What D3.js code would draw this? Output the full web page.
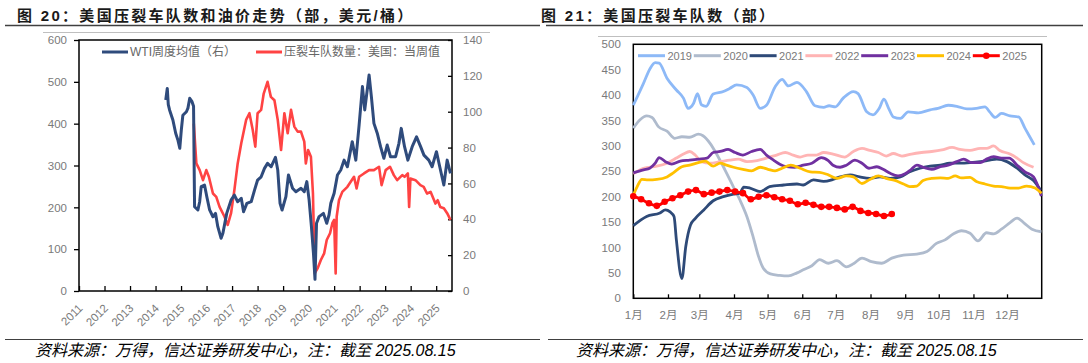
<!DOCTYPE html>
<html>
<head>
<meta charset="utf-8">
<script src="https://cdn.jsdelivr.net/npm/d3@7"></script>
<style>
  body { margin: 0; background: #fff; }
  text { font-family: "Liberation Sans", "Noto Sans CJK SC", sans-serif; }
</style>
</head>
<body>
<script>
// ---- left chart data (decimal year, value) ----
const wti = [
  [2014.40,106.5],[2014.46,113],[2014.50,104],[2014.55,101],[2014.68,95.4],[2014.79,88],[2014.88,84],[2014.95,79.6],
  [2015.01,89.8],[2015.07,98],[2015.21,100],[2015.27,102],[2015.34,107.5],[2015.43,105.6],[2015.49,103],[2015.52,60],
  [2015.53,47],[2015.66,45.2],[2015.73,49.8],[2015.79,58.2],[2015.92,59.1],[2016.01,52.6],[2016.12,45.2],[2016.25,41.4],
  [2016.35,43.3],[2016.44,35.9],[2016.57,29.4],[2016.64,32.2],[2016.79,43.3],[2016.96,50.7],[2017.09,53.5],[2017.22,49.8],
  [2017.36,51.7],[2017.45,44.2],[2017.58,48.9],[2017.75,49.8],[2017.88,56.3],[2018.00,61.9],[2018.14,63.7],[2018.27,68.4],
  [2018.39,71.2],[2018.53,69.3],[2018.70,74.6],[2018.79,67.5],[2018.88,48.9],[2018.96,45.2],[2019.11,52.6],[2019.21,64.7],
  [2019.37,57.3],[2019.50,55.4],[2019.70,57.3],[2019.83,55.4],[2019.93,61],[2020.02,50.7],[2020.11,35.9],[2020.19,21],
  [2020.25,6.5],[2020.31,37.8],[2020.41,41.5],[2020.58,43.3],[2020.71,37.8],[2020.80,42.4],[2020.87,48.9],[2021.00,54.5],
  [2021.13,64.7],[2021.26,67.5],[2021.39,73],[2021.52,69.3],[2021.71,83.3],[2021.85,73],[2021.98,92.6],[2022.11,114],
  [2022.20,101],[2022.37,120.5],[2022.46,108.4],[2022.56,93.5],[2022.69,88],[2022.82,80.5],[2022.95,74],[2023.08,81.4],
  [2023.21,74.9],[2023.41,74.9],[2023.54,82.4],[2023.63,90.7],[2023.76,80.5],[2023.89,73],[2024.06,80.5],[2024.23,86],
  [2024.39,80.5],[2024.52,75.8],[2024.71,73],[2024.84,69.3],[2025.01,77.7],[2025.14,69.3],[2025.30,59.1],[2025.43,73],
  [2025.56,65.6]
];
const fleet = [
  [2015.50,400],[2015.60,305],[2015.73,289],[2015.86,265],[2015.99,289],[2016.09,273],[2016.25,233],[2016.38,225],
  [2016.51,201],[2016.70,178],[2016.83,158],[2016.96,186],[2017.09,241],[2017.22,305],[2017.36,353],[2017.55,409],
  [2017.68,425],[2017.81,385],[2017.91,345],[2018.00,425],[2018.14,433],[2018.24,472],[2018.39,500],[2018.52,464],
  [2018.66,456],[2018.79,409],[2018.92,337],[2019.05,425],[2019.18,377],[2019.31,433],[2019.44,393],[2019.57,381],
  [2019.70,381],[2019.83,357],[2019.89,305],[2019.98,337],[2020.09,321],[2020.17,233],[2020.24,42],[2020.35,54],
  [2020.48,74],[2020.61,90],[2020.71,122],[2020.84,138],[2020.93,162],[2021.00,170],[2021.06,42],[2021.10,178],
  [2021.19,217],[2021.32,237],[2021.52,249],[2021.65,261],[2021.78,273],[2021.88,245],[2021.98,273],[2022.17,281],
  [2022.37,289],[2022.56,289],[2022.76,297],[2022.86,253],[2023.02,289],[2023.19,297],[2023.34,277],[2023.47,265],
  [2023.67,277],[2023.76,273],[2023.89,281],[2023.94,201],[2023.99,269],[2024.19,265],[2024.38,253],[2024.51,249],
  [2024.64,233],[2024.78,237],[2024.97,209],[2025.06,217],[2025.16,201],[2025.30,198],[2025.43,186],[2025.56,170]
];
const yearTicks = d3.range(2011, 2026);
const leftTicks = [0, 100, 200, 300, 400, 500, 600];
const rightTicks = [0, 20, 40, 60, 80, 100, 120, 140];

// ---- right chart data (week of year, value) ----
const s2019 = [[0,380],[1.3,423],[2.1,451],[2.8,464],[3.3,463],[4.3,433],[5.5,410],[6.4,394],[7.0,374],[7.7,384],[8.2,403],[8.7,381],[9.3,378],[10.2,402],[11.5,407],[12.3,413],[13.2,420],[14.5,415],[15.3,400],[16.2,374],[17.0,380],[18.1,416],[19.0,431],[19.8,418],[20.9,425],[22.1,407],[23.2,379],[24.3,376],[25.0,379],[25.8,377],[26.8,394],[28.1,407],[28.7,403],[29.8,367],[30.6,361],[31.4,374],[32.0,392],[32.6,374],[33.2,357],[34.1,354],[35.1,367],[36.4,365],[37.9,371],[38.9,374],[40.2,380],[41.3,378],[42.6,373],[43.8,374],[44.9,377],[45.5,367],[46.2,356],[47.0,364],[48.1,359],[49.2,357],[50.0,335],[51.2,302]];
const s2020 = [[0,335],[0.9,352],[1.7,359],[2.4,356],[3.2,338],[4.3,329],[5.3,315],[6.2,318],[7.2,317],[8.3,323],[8.9,320],[9.8,305],[10.6,285],[11.7,253],[12.7,222],[13.6,194],[14.5,161],[15.3,121],[16.0,82],[16.6,59],[17.5,48],[18.7,45],[19.8,44],[20.9,50],[21.7,56],[22.8,64],[23.8,76],[24.9,69],[26.0,74],[27.2,62],[28.1,68],[29.2,79],[30.4,72],[31.7,69],[33.0,79],[34.5,85],[36.2,87],[37.5,92],[38.7,108],[39.8,115],[40.9,127],[41.9,133],[43.0,128],[44.0,113],[45.1,129],[46.0,127],[47.0,136],[48.1,149],[49.0,158],[49.9,148],[50.9,136],[52.1,131]];
const s2021 = [[0,143],[1.7,161],[3.4,168],[4.1,174],[4.7,170],[5.2,161],[5.5,115],[6.2,39],[6.7,102],[7.3,144],[7.9,157],[9.0,174],[10.2,192],[11.5,200],[12.8,205],[13.6,207],[14.1,219],[14.9,217],[16.2,210],[17.4,220],[19.2,223],[20.9,225],[21.7,223],[23.0,233],[24.3,230],[25.5,234],[26.4,239],[27.7,243],[28.9,239],[30.2,236],[31.5,239],[32.8,236],[34.1,239],[35.3,249],[36.6,256],[37.9,260],[39.2,262],[40.4,266],[41.7,266],[43.0,267],[44.3,269],[45.5,272],[46.4,274],[47.7,269],[49.0,256],[50.0,243],[51.1,232],[52.0,213]];
const s2022 = [[0,245],[1.3,256],[3.0,260],[4.3,266],[5.5,276],[6.4,284],[7.2,289],[7.9,282],[8.7,269],[9.8,266],[11.1,269],[12.3,272],[13.4,274],[14.5,269],[15.8,271],[17.0,276],[18.3,282],[19.4,287],[20.4,282],[21.3,278],[22.3,282],[23.4,282],[24.3,287],[25.5,284],[27.0,278],[28.1,289],[29.2,295],[30.2,291],[31.3,287],[32.3,280],[33.2,285],[34.3,280],[35.5,284],[36.8,287],[38.1,289],[39.4,292],[40.7,297],[41.7,293],[43.0,291],[44.3,295],[45.1,295],[46.0,300],[46.8,291],[48.1,284],[49.0,276],[49.8,267],[51.1,258]];
const s2023 = [[0,247],[1.3,253],[2.1,256],[2.8,266],[3.3,277],[4.1,269],[4.9,264],[6.0,270],[7.2,272],[8.3,274],[9.4,276],[10.2,287],[11.1,289],[12.1,293],[13.0,287],[14.0,282],[15.1,289],[16.2,293],[17.0,282],[17.9,272],[18.7,264],[19.6,259],[20.6,258],[21.7,262],[22.8,266],[24.0,277],[24.9,271],[25.5,262],[26.4,258],[27.2,262],[28.3,272],[29.2,266],[30.1,256],[31.1,259],[31.9,254],[32.8,246],[33.8,241],[34.7,245],[35.5,254],[36.2,262],[37.0,258],[38.1,254],[39.2,259],[40.2,262],[41.3,269],[42.2,274],[43.2,267],[44.3,267],[45.1,274],[46.0,279],[47.0,276],[48.0,276],[49.0,262],[50.0,249],[51.1,239],[52.1,201]];
const s2024 = [[0,203],[0.5,220],[1.1,234],[1.9,233],[3.0,234],[4.3,239],[5.1,247],[6.2,259],[7.2,262],[8.3,267],[9.2,270],[10.2,260],[11.1,266],[11.9,262],[12.8,258],[14.0,254],[15.1,251],[16.2,258],[17.2,254],[18.1,251],[19.0,256],[20.1,262],[21.3,256],[22.6,249],[23.8,248],[24.9,243],[26.0,236],[27.2,241],[28.1,239],[29.2,226],[30.2,234],[31.3,241],[32.3,236],[33.4,232],[34.5,225],[35.3,220],[36.2,221],[37.0,232],[38.1,236],[39.2,237],[40.2,236],[41.1,241],[41.9,237],[43.0,238],[43.8,230],[44.9,225],[46.0,221],[47.0,220],[48.1,217],[49.2,217],[50.2,221],[51.3,217],[52.1,207]];
// 2025 weekly values, first week of the year onwards
const s2025 = [201,195,187,182,190,197,203,210,213,205,208,210,213,210,207,195,200,203,199,195,192,185,188,184,180,180,178,175,180,172,168,166,162,166];

const monthLabels = ["1月","2月","3月","4月","5月","6月","7月","8月","9月","10月","11月","12月"];
const monthStartDays = [0,31,59,90,120,151,181,212,243,273,304,334];
const yTicks2 = d3.range(0, 501, 50);

const series2 = [
  { name: "2019", color: "#8DB9F7", data: s2019 },
  { name: "2020", color: "#AFBBCD", data: s2020 },
  { name: "2021", color: "#2E4A78", data: s2021 },
  { name: "2022", color: "#FFB4B4", data: s2022 },
  { name: "2023", color: "#7030A0", data: s2023 },
  { name: "2024", color: "#FFC000", data: s2024 },
  { name: "2025", color: "#FF0000", data: s2025.map((v, i) => [i, v]) }
];

const svg = d3.select("body").append("svg").attr("width", 1088).attr("height", 363);
svg.append("rect").attr("width", 1088).attr("height", 363).attr("fill", "#fff");

// titles, rules and notes
function header(x, x1, x2, title) {
  svg.append("text").attr("x", x).attr("y", 21)
     .attr("font-size", 15).attr("font-weight", "bold").attr("letter-spacing", "2.3px")
     .attr("fill", "#1a1a1a").text(title);
  svg.append("line").attr("x1", x1).attr("x2", x2).attr("y1", 25.5).attr("y2", 25.5)
     .attr("stroke", "#404040").attr("stroke-width", 1.5);
}
function footer(x, x1, x2) {
  svg.append("line").attr("x1", x1).attr("x2", x2).attr("y1", 339.5).attr("y2", 339.5)
     .attr("stroke", "#404040").attr("stroke-width", 1.2);
  svg.append("text").attr("x", x).attr("y", 356).attr("font-size", 16).attr("font-style", "italic")
     .attr("fill", "#000").text("资料来源：万得，信达证券研发中心，注：截至 2025.08.15");
}
header(17, 5, 540, "图 20：美国压裂车队数和油价走势（部，美元/桶）");
header(541, 546, 1083, "图 21：美国压裂车队数（部）");
footer(35, 5, 540);
footer(576, 548, 1083);

// ================= left chart =================
const x1 = d3.scaleLinear().domain([2011, 2025.62]).range([79, 452]);
const yL = d3.scaleLinear().domain([0, 600]).range([291, 40]);
const yR = d3.scaleLinear().domain([0, 140]).range([291, 40]);

svg.append("line").attr("x1", 43).attr("x2", 490).attr("y1", 32.5).attr("y2", 32.5)
   .attr("stroke", "#BFBFBF").attr("stroke-width", 1);

const gl = svg.append("g").attr("transform", "translate(79,0)")
  .call(d3.axisLeft(yL).tickValues(leftTicks).tickSizeInner(5).tickSizeOuter(0).tickPadding(7));
const gr = svg.append("g").attr("transform", "translate(452,0)")
  .call(d3.axisRight(yR).tickValues(rightTicks).tickSizeInner(-4).tickSizeOuter(0).tickPadding(11));
const gb = svg.append("g").attr("transform", "translate(0,291)")
  .call(d3.axisBottom(x1).tickValues(yearTicks).tickFormat(d3.format("d")).tickSizeInner(-5).tickSizeOuter(0));
gb.selectAll("text").attr("y", 0).attr("dy", "0.35em").attr("text-anchor", "end")
  .attr("transform", "translate(1,15) rotate(-45)");

[gl, gr, gb].forEach(g => {
  g.selectAll("path").remove();
  g.selectAll("line").attr("stroke", "#000").attr("stroke-width", 1.3);
  g.selectAll("text").attr("fill", "#7a7a7a").attr("font-size", 11.5)
   .attr("font-family", "Liberation Sans, sans-serif");
});
svg.append("rect").attr("x", 79).attr("y", 40).attr("width", 373).attr("height", 251)
   .attr("fill", "none").attr("stroke", "#000").attr("stroke-width", 1.5);

const lineFleet = d3.line().x(d => x1(d[0])).y(d => yL(d[1]));
const lineWti = d3.line().x(d => x1(d[0])).y(d => yR(d[1]));
svg.append("path").datum(fleet).attr("d", lineFleet)
   .attr("fill", "none").attr("stroke", "#FF4343").attr("stroke-width", 2.6).attr("stroke-linejoin", "round");
svg.append("path").datum(wti).attr("d", lineWti)
   .attr("fill", "none").attr("stroke", "#2F4B7C").attr("stroke-width", 3).attr("stroke-linejoin", "round");

// legend
svg.append("line").attr("x1", 102).attr("x2", 128).attr("y1", 52).attr("y2", 52)
   .attr("stroke", "#2F4B7C").attr("stroke-width", 3);
svg.append("text").attr("x", 130).attr("y", 52).attr("dy", "0.35em").attr("font-size", 12)
   .attr("fill", "#666").text("WTI周度均值（右）");
svg.append("line").attr("x1", 256).attr("x2", 282).attr("y1", 52).attr("y2", 52)
   .attr("stroke", "#FF4343").attr("stroke-width", 3);
svg.append("text").attr("x", 284).attr("y", 52).attr("dy", "0.35em").attr("font-size", 12)
   .attr("fill", "#666").text("压裂车队数量：美国：当周值");

// ================= right chart =================
const x2 = d3.scaleLinear().domain([0, 365 / 7]).range([633.3, 1041.7]);
const y2 = d3.scaleLinear().domain([0, 500]).range([298.3, 44.3]);

svg.append("line").attr("x1", 598).attr("x2", 1047).attr("y1", 36.5).attr("y2", 36.5)
   .attr("stroke", "#BFBFBF").attr("stroke-width", 1);

const g2l = svg.append("g").attr("transform", "translate(633.3,0)")
  .call(d3.axisLeft(y2).tickValues(yTicks2).tickSize(0).tickPadding(12.5));
const g2b = svg.append("g").attr("transform", "translate(0,298.3)")
  .call(d3.axisBottom(x2).tickValues(monthStartDays.map(d => d / 7))
        .tickFormat((d, i) => monthLabels[i]).tickSizeInner(-4).tickSizeOuter(0).tickPadding(12.5));
[g2l, g2b].forEach(g => {
  g.selectAll("path").remove();
  g.selectAll("line").attr("stroke", "#000").attr("stroke-width", 1.3);
  g.selectAll("text").attr("fill", "#7a7a7a").attr("font-size", 11.5);
});
svg.append("rect").attr("x", 633.3).attr("y", 44.3).attr("width", 408.4).attr("height", 254)
   .attr("fill", "none").attr("stroke", "#000").attr("stroke-width", 1.5);

const line2 = d3.line().x(d => x2(d[0])).y(d => y2(d[1])).curve(d3.curveMonotoneX);
svg.selectAll("path.yr").data(series2).enter().append("path")
   .attr("class", "yr")
   .attr("d", d => line2(d.data))
   .attr("fill", "none").attr("stroke", d => d.color)
   .attr("stroke-width", 2.8).attr("stroke-linejoin", "round");

svg.selectAll("circle.dot").data(series2[6].data).enter().append("circle")
   .attr("class", "dot")
   .attr("cx", d => x2(d[0])).attr("cy", d => y2(d[1])).attr("r", 3.3)
   .attr("fill", "#FF0000");

// legend
const leg = svg.selectAll("g.leg").data(series2).enter().append("g")
   .attr("class", "leg")
   .attr("transform", (d, i) => "translate(" + (638 + i * 55.8) + ",55.7)");
leg.append("line").attr("x1", 0).attr("x2", 27).attr("y1", 0).attr("y2", 0)
   .attr("stroke", d => d.color).attr("stroke-width", 3);
leg.filter(d => d.name === "2025").append("circle").attr("cx", 13.5).attr("cy", 0).attr("r", 3.3)
   .attr("fill", "#FF0000");
leg.append("text").attr("x", 29.5).attr("y", 0).attr("dy", "0.35em").attr("font-size", 11)
   .attr("fill", "#7a7a7a").text(d => d.name);
</script>
</body>
</html>
